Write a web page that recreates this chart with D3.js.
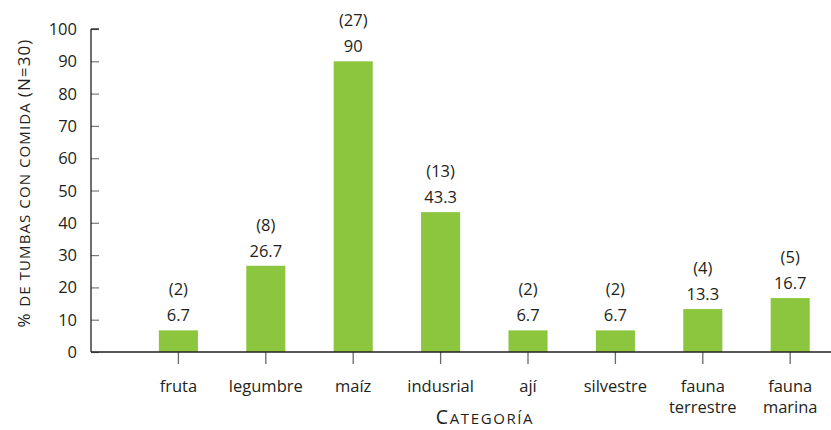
<!DOCTYPE html>
<html>
<head>
<meta charset="utf-8">
<script src="https://cdn.jsdelivr.net/npm/d3@7"></script>
<style>
  html, body { margin: 0; padding: 0; background: #fff; }
  svg { display: block; font-family: "Open Sans", "Noto Sans", sans-serif; }
</style>
</head>
<body>
<svg id="chart" width="831" height="430"></svg>
<script>
// Food categories found in tombs
const categories = ["fruta", "legumbre", "maíz", "indusrial", "ají", "silvestre", "fauna terrestre", "fauna marina"];
// Percentage of tombs with each food (N = 30)
const percents = [6.7, 26.7, 90, 43.3, 6.7, 6.7, 13.3, 16.7];
// Number of tombs behind each percentage
const counts = [2, 8, 27, 13, 2, 2, 4, 5];
const yTicks = [0, 10, 20, 30, 40, 50, 60, 70, 80, 90, 100];

const svg = d3.select("#chart");
const textColor = "#231f20";
const barColor = "#8cc63f";

const x0 = 91, yBase = 352, yTop = 29;
const step = 87.4;

const x = d3.scaleBand()
  .domain(categories)
  .range([x0 + step / 2, x0 + step / 2 + step * categories.length])
  .paddingInner(0.553)
  .paddingOuter(0.553 / 2);

const y = d3.scaleLinear().domain([0, 100]).range([yBase, yTop]);

// Bars
svg.append("g").selectAll("rect")
  .data(categories)
  .join("rect")
  .attr("x", d => x(d))
  .attr("y", (d, i) => y(percents[i]))
  .attr("width", x.bandwidth())
  .attr("height", (d, i) => yBase - y(percents[i]))
  .attr("fill", barColor);

// Y axis with ticks pointing into the plot
const yAxis = svg.append("g")
  .attr("transform", `translate(${x0},0)`)
  .call(d3.axisRight(y).tickValues(yTicks).tickSize(8).tickFormat(""));
yAxis.select(".domain").remove();
yAxis.selectAll(".tick line").attr("stroke", "#7a7a7a").attr("stroke-width", 1.2);

svg.append("g").selectAll("text")
  .data(yTicks)
  .join("text")
  .attr("x", 77)
  .attr("y", d => y(d) + 6)
  .attr("text-anchor", "end")
  .attr("font-size", 16.5)
  .attr("fill", textColor)
  .text(d => d);

// X axis ticks below the baseline
const xAxis = svg.append("g")
  .attr("transform", `translate(0,${yBase})`)
  .call(d3.axisBottom(x).tickSize(12).tickFormat(""));
xAxis.select(".domain").remove();
xAxis.selectAll(".tick line").attr("stroke", "#6a6a6a").attr("stroke-width", 1.3);

// Axis lines
svg.append("line")
  .attr("x1", x0).attr("x2", 831)
  .attr("y1", yBase).attr("y2", yBase)
  .attr("stroke", textColor).attr("stroke-width", 1.3);
svg.append("line")
  .attr("x1", x0).attr("x2", x0)
  .attr("y1", yTop).attr("y2", yBase)
  .attr("stroke", textColor).attr("stroke-width", 1.3);
svg.append("line")
  .attr("x1", x0).attr("x2", x0 + 8)
  .attr("y1", yTop).attr("y2", yTop)
  .attr("stroke", textColor).attr("stroke-width", 1.3);

// Category labels (wrapped on spaces)
const xl = svg.append("g").selectAll("text")
  .data(categories)
  .join("text")
  .attr("x", d => x(d) + x.bandwidth() / 2)
  .attr("y", 392)
  .attr("text-anchor", "middle")
  .attr("font-size", 16.5)
  .attr("fill", textColor);
xl.selectAll("tspan")
  .data(d => d.split(" "))
  .join("tspan")
  .attr("x", function () { return d3.select(this.parentNode).attr("x"); })
  .attr("dy", (d, i) => i === 0 ? 0 : 21)
  .text(d => d);

// Value and count labels above bars
const labels = svg.append("g").selectAll("g")
  .data(categories)
  .join("g");
labels.append("text")
  .attr("x", d => x(d) + x.bandwidth() / 2)
  .attr("y", (d, i) => y(percents[i]) - 9)
  .attr("text-anchor", "middle")
  .attr("font-size", 16.5)
  .attr("fill", textColor)
  .text((d, i) => percents[i]);
labels.append("text")
  .attr("x", d => x(d) + x.bandwidth() / 2)
  .attr("y", (d, i) => y(percents[i]) - 35)
  .attr("text-anchor", "middle")
  .attr("font-size", 16.5)
  .attr("fill", textColor)
  .text((d, i) => `(${counts[i]})`);

// Axis titles in small caps
const xt = svg.append("text")
  .attr("x", 485).attr("y", 424)
  .attr("text-anchor", "middle")
  .attr("fill", textColor)
  .attr("letter-spacing", 1.6);
xt.append("tspan").attr("font-size", 19.5).text("C");
xt.append("tspan").attr("font-size", 15).text("ATEGORÍA");

const yt = svg.append("text")
  .attr("transform", "translate(30,183) rotate(-90)")
  .attr("text-anchor", "middle")
  .attr("fill", textColor)
  .attr("letter-spacing", 1.1);
yt.append("tspan").attr("font-size", 17).text("% ");
yt.append("tspan").attr("font-size", 15).text("DE TUMBAS CON COMIDA ");
yt.append("tspan").attr("font-size", 17).text("(N=30)");
</script>
</body>
</html>
